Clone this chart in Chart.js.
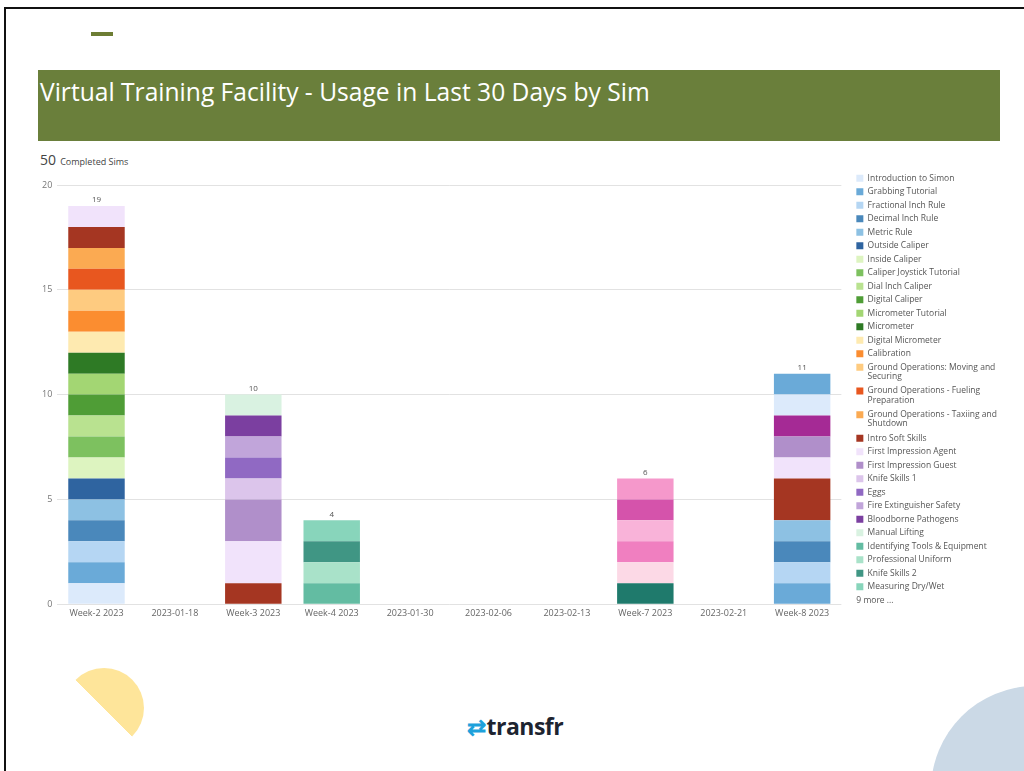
<!DOCTYPE html>
<html lang="en">
<head>
  <meta charset="UTF-8">
  <title>Virtual Training Facility - Usage</title>
  <script src="https://cdn.jsdelivr.net/npm/chart.js"></script>
  <style>
    body {
      margin: 0;
      width: 1024px;
      height: 771px;
      position: relative;
      overflow: hidden;
      background: #fff;
      font-family: "Open Sans", Arial, sans-serif;
    }
    .frame-top { position: absolute; left: 4px; top: 7px; width: 1020px; height: 2px; background: #111; }
    .frame-left { position: absolute; left: 4px; top: 7px; width: 2px; height: 764px; background: #111; }
    .dash { position: absolute; left: 91px; top: 32px; width: 22px; height: 4px; background: #6d7d34; }
    .banner {
      position: absolute; left: 38px; top: 70px; width: 962px; height: 71px;
      background: #6a7f3b; color: #fff; box-sizing: border-box; padding: 5px 0 0 2px;
      font-size: 24.6px; font-weight: 400;
    }
    .total { position: absolute; left: 40px; top: 148px; color: #444; }
    .total b { font-size: 14px; font-weight: 400; }
    .total span { font-size: 9px; }
    .chart-box { position: absolute; left: 37px; top: 169px; width: 970px; height: 454px; }
    .sun {
      position: absolute; left: 64px; top: 668px; width: 80px; height: 80px; border-radius: 50%;
      background: linear-gradient(45deg, transparent 50%, #fee59a 50%);
    }
    .moon { position: absolute; left: 931px; top: 686px; width: 208px; height: 208px; border-radius: 50%; background: #cbd9e6; }
    .logo { position: absolute; left: 467px; top: 710px; font-size: 23px; font-weight: 700; color: #1d2430; letter-spacing: -0.5px; }
    .logo i { font-style: normal; color: #1ea1db; font-weight: 700; margin-right: 1px; }
  </style>
</head>
<body>
  <div class="frame-top"></div>
  <div class="frame-left"></div>
  <div class="dash"></div>
  <div class="banner">Virtual Training Facility - Usage in Last 30 Days by Sim</div>
  <div class="total"><b id="totalNum"></b> <span>Completed Sims</span></div>
  <div class="chart-box"><canvas id="usageChart"></canvas></div>
  <div class="sun"></div>
  <div class="moon"></div>
  <div class="logo"><i>&#8644;</i>transfr</div>

  <script>
    const categories = ['Week-2 2023', '2023-01-18', 'Week-3 2023', 'Week-4 2023', '2023-01-30',
      '2023-02-06', '2023-02-13', 'Week-7 2023', '2023-02-21', 'Week-8 2023'];

    const sims = [
      'Introduction to Simon', 'Grabbing Tutorial', 'Fractional Inch Rule', 'Decimal Inch Rule',
      'Metric Rule', 'Outside Caliper', 'Inside Caliper', 'Caliper Joystick Tutorial',
      'Dial Inch Caliper', 'Digital Caliper', 'Micrometer Tutorial', 'Micrometer',
      'Digital Micrometer', 'Calibration', 'Ground Operations: Moving and Securing',
      'Ground Operations - Fueling Preparation', 'Ground Operations - Taxiing and Shutdown',
      'Intro Soft Skills', 'First Impression Agent', 'First Impression Guest', 'Knife Skills 1',
      'Eggs', 'Fire Extinguisher Safety', 'Bloodborne Pathogens', 'Manual Lifting',
      'Identifying Tools & Equipment', 'Professional Uniform', 'Knife Skills 2', 'Measuring Dry/Wet',
      // the "9 more" not listed in the legend
      'Sim 30', 'Sim 31', 'Sim 32', 'Sim 33', 'Sim 34', 'Sim 35', 'Sim 36', 'Sim 37', 'Sim 38'
    ];

    const simColors = [
      '#dceafb', '#6aaad8', '#b5d6f3', '#4a88bb', '#8dc1e3', '#2f64a0', '#ddf4c0', '#7dc15f',
      '#b9e290', '#4f9d36', '#a3d673', '#2e7a25', '#feeab0', '#fb8d30', '#fecb80', '#e8571f',
      '#fbaa52', '#a53622', '#f1e3fb', '#b08fca', '#dcc5eb', '#9069c3', '#c1a5da', '#7b3fa0',
      '#d9f2e1', '#63bca2', '#a9e2c9', '#409684', '#88d5bb',
      '#1f7a6c', '#fcd9e6', '#f07fc0', '#f9b3d9', '#d553ab', '#f598cb', '#a52a95', '#dceafb', '#6aaad8'
    ];

    // completions per sim (same order as sims), one array per week with data
    const week2 = [1,1,1,1,1,1,1,1,1,1, 1,1,1,1,1,1,1,1,1,0, 0,0,0,0,0,0,0,0,0, 0,0,0,0,0,0,0,0,0];
    const week3 = [0,0,0,0,0,0,0,0,0,0, 0,0,0,0,0,0,0,1,2,2, 1,1,1,1,1,0,0,0,0, 0,0,0,0,0,0,0,0,0];
    const week4 = [0,0,0,0,0,0,0,0,0,0, 0,0,0,0,0,0,0,0,0,0, 0,0,0,0,0,1,1,1,1, 0,0,0,0,0,0,0,0,0];
    const week7 = [0,0,0,0,0,0,0,0,0,0, 0,0,0,0,0,0,0,0,0,0, 0,0,0,0,0,0,0,0,0, 1,1,1,1,1,1,0,0,0];
    const week8 = [0,1,1,1,1,0,0,0,0,0, 0,0,0,0,0,0,0,2,1,1, 0,0,0,0,0,0,0,0,0, 0,0,0,0,0,0,1,1,1];

    const countsByCategory = {
      'Week-2 2023': week2, 'Week-3 2023': week3, 'Week-4 2023': week4,
      'Week-7 2023': week7, 'Week-8 2023': week8
    };
    const legendShown = 29;

    const datasets = sims.map((name, i) => ({
      label: name,
      data: categories.map(c => countsByCategory[c] ? countsByCategory[c][i] : 0),
      backgroundColor: simColors[i],
      borderWidth: 0
    }));

    const grandTotal = datasets.reduce((s, d) => s + d.data.reduce((a, b) => a + b, 0), 0);
    document.getElementById('totalNum').textContent = grandTotal;

    // wrap long legend labels onto two lines
    function wrapLabel(text, maxChars) {
      const words = text.split(' ');
      const lines = [];
      let cur = '';
      words.forEach(w => {
        const next = cur ? cur + ' ' + w : w;
        if (next.length > maxChars && cur) { lines.push(cur); cur = w; } else { cur = next; }
      });
      lines.push(cur);
      return lines.length > 1 ? lines : text;
    }

    // stack totals above each bar
    const totalsPlugin = {
      id: 'totals',
      afterDatasetsDraw(chart) {
        const ctx = chart.ctx;
        const y = chart.scales.y;
        const meta0 = chart.getDatasetMeta(0);
        ctx.save();
        ctx.font = '8px "Open Sans"';
        ctx.fillStyle = '#555';
        ctx.textAlign = 'center';
        ctx.textBaseline = 'bottom';
        categories.forEach((c, idx) => {
          const sum = chart.data.datasets.reduce((s, d) => s + (d.data[idx] || 0), 0);
          if (sum > 0) ctx.fillText(sum, meta0.data[idx].x, y.getPixelForValue(sum) - 2);
        });
        ctx.restore();
      }
    };

    // "9 more ..." line under the legend
    const moreLabelPlugin = {
      id: 'moreLabel',
      afterDraw(chart) {
        const boxes = chart.legend.legendHitBoxes;
        if (!boxes.length) return;
        const last = boxes[boxes.length - 1];
        const ctx = chart.ctx;
        ctx.save();
        ctx.font = '8.5px "Open Sans"';
        ctx.fillStyle = '#555';
        ctx.textBaseline = 'middle';
        ctx.fillText((sims.length - legendShown) + ' more ...', last.left, last.top + last.height / 2 + 13.5);
        ctx.restore();
      }
    };

    const usageCtx = document.getElementById('usageChart').getContext('2d');
    new Chart(usageCtx, {
      type: 'bar',
      data: { labels: categories, datasets: datasets },
      plugins: [totalsPlugin, moreLabelPlugin],
      options: {
        responsive: true,
        maintainAspectRatio: false,
        animation: false,
        layout: { padding: 0 },
        plugins: {
          tooltip: { enabled: false },
          // empty spacer above the plot only (legend keeps the full height)
          title: { display: true, text: ' ', fullSize: false, font: { size: 1, lineHeight: 1 }, padding: { top: 0, bottom: 15 } },
          legend: {
            position: 'right',
            align: 'start',
            labels: {
              boxWidth: 7,
              boxHeight: 7,
              padding: 5,
              color: '#555',
              font: { family: 'Open Sans', size: 8.5, lineHeight: 1.1 },
              filter: item => item.datasetIndex < legendShown,
              generateLabels(chart) {
                const items = Chart.defaults.plugins.legend.labels.generateLabels(chart);
                items.forEach(it => { it.text = wrapLabel(it.text, 31); });
                return items;
              }
            }
          }
        },
        scales: {
          x: {
            stacked: true,
            grid: { display: false, drawTicks: false },
            border: { display: false },
            ticks: { color: '#666', font: { family: 'Open Sans', size: 9 }, maxRotation: 0, autoSkip: false, padding: 4 }
          },
          y: {
            stacked: true,
            min: 0,
            max: 20,
            grid: { color: '#e2e2e2', drawTicks: false },
            border: { display: false },
            ticks: { stepSize: 5, color: '#777', font: { family: 'Open Sans', size: 9 }, padding: 5 }
          },
          // blank gap between plot and legend
          gap: {
            type: 'linear',
            position: 'right',
            display: true,
            grid: { display: false, drawTicks: false },
            border: { display: false },
            ticks: { display: false },
            afterFit(scale) { scale.width = 10; }
          }
        }
      }
    });
  </script>
</body>
</html>
